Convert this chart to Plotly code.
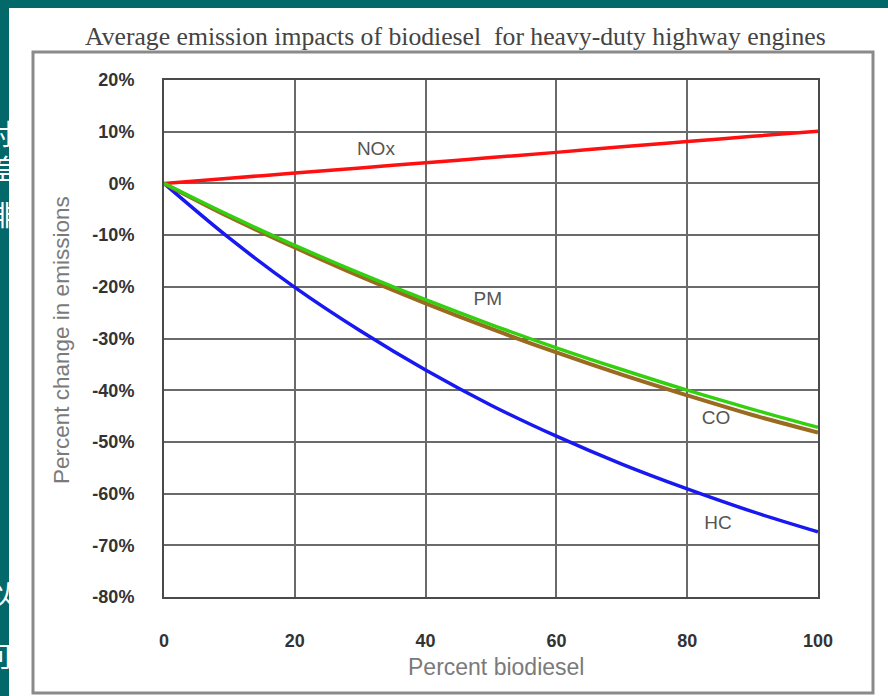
import plotly.graph_objects as go

# ---- data ----
biodiesel_pct = [0, 10, 20, 30, 40, 50, 60, 70, 80, 90, 100]
nox = [0, 1.0, 2.0, 3.0, 4.0, 5.0, 6.0, 7.1, 8.1, 9.1, 10.1]
pm = [0, -6.2, -12.0, -17.4, -22.5, -27.3, -31.8, -36.0, -40.0, -43.7, -47.2]
co = [0, -6.5, -12.4, -18.0, -23.2, -28.1, -32.7, -37.0, -41.0, -44.8, -48.2]
hc = [0, -10.6, -20.1, -28.5, -36.1, -42.9, -48.9, -54.3, -59.1, -63.5, -67.4]

x_ticks = [0, 20, 40, 60, 80, 100]
x_tick_labels = ["0", "20", "40", "60", "80", "100"]
y_ticks = [20, 10, 0, -10, -20, -30, -40, -50, -60, -70, -80]
y_tick_labels = ["20%", "10%", "0%", "-10%", "-20%", "-30%", "-40%", "-50%", "-60%", "-70%", "-80%"]

series_labels = ["NOx", "PM", "CO", "HC"]
label_x = [32.4, 49.5, 84.4, 84.7]
label_y = [6.5, -22.6, -45.6, -65.9]

frag_chars = ["对", "差", "排", "以", "可"]
frag_y = [138, 173, 219, 598, 660]

W, H = 888, 696
px = lambda v: v / W
py = lambda v: 1 - v / H

fig = go.Figure()

fig.add_trace(go.Scatter(x=biodiesel_pct, y=nox, mode="lines", line=dict(color="#ff1010", width=3.5, shape="spline"), showlegend=False))
fig.add_trace(go.Scatter(x=biodiesel_pct, y=hc, mode="lines", line=dict(color="#1818f0", width=3.5, shape="spline"), showlegend=False))
fig.add_trace(go.Scatter(x=biodiesel_pct, y=co, mode="lines", line=dict(color="#9a6a20", width=4, shape="spline"), showlegend=False))
fig.add_trace(go.Scatter(x=biodiesel_pct, y=pm, mode="lines", line=dict(color="#33d010", width=3.5, shape="spline"), showlegend=False))

fig.add_trace(go.Scatter(x=label_x, y=label_y, mode="text", text=series_labels,
                         textfont=dict(family="Liberation Sans", size=19, color="#555555"),
                         showlegend=False, cliponaxis=False))

# clipped fragments of slide text behind the picture
fig.add_trace(go.Scatter(x=[0] * len(frag_chars), y=frag_y, mode="text", text=frag_chars,
                         textposition="middle center",
                         textfont=dict(family="Noto Sans CJK SC", size=28, color="white"),
                         xaxis="x2", yaxis="y2", showlegend=False, cliponaxis=True))

tick_font = dict(family="Liberation Sans", size=18, color="#333333", weight="bold")

fig.update_layout(
    width=W, height=H,
    margin=dict(l=0, r=0, t=0, b=0, autoexpand=False),
    paper_bgcolor="#03686a",
    plot_bgcolor="rgba(0,0,0,0)",
    xaxis=dict(domain=[px(164), px(818)], range=[0, 100], tickvals=x_ticks, ticktext=x_tick_labels,
               showgrid=True, gridcolor="#6a6a6a", gridwidth=1.5, zeroline=False,
               showline=True, linecolor="#4a4a4a", linewidth=2, mirror=True, automargin=False,
               ticks="", ticklabelstandoff=26, tickfont=tick_font),
    yaxis=dict(domain=[py(597), py(80)], range=[-80, 20], tickvals=y_ticks, ticktext=y_tick_labels,
               showgrid=True, gridcolor="#6a6a6a", gridwidth=1.5, zeroline=False,
               showline=True, linecolor="#4a4a4a", linewidth=2, mirror=True, automargin=False,
               ticks="", ticklabelstandoff=24, tickfont=tick_font),
    xaxis2=dict(domain=[0, px(9)], range=[0, 9], visible=False, anchor="y2", automargin=False),
    yaxis2=dict(domain=[0, 1], range=[H, 0], visible=False, anchor="x2", automargin=False),
    shapes=[
        dict(type="rect", xref="paper", yref="paper", x0=px(9), x1=1, y0=0, y1=py(8),
             fillcolor="white", line=dict(width=0), layer="below"),
        dict(type="rect", xref="paper", yref="paper", x0=px(33), x1=px(873), y0=py(693), y1=py(52),
             fillcolor="rgba(0,0,0,0)", line=dict(color="#8a8a8a", width=3), layer="below"),
    ],
    annotations=[
        dict(text="Average emission impacts of biodiesel&nbsp; for heavy-duty highway engines",
             xref="paper", yref="paper", x=px(455), y=py(37), showarrow=False,
             xanchor="center", yanchor="middle",
             font=dict(family="Liberation Serif", size=25.7, color="#444444")),
        dict(text="Percent change in emissions", xref="paper", yref="paper",
             x=px(61), y=py(340), showarrow=False, textangle=-90,
             xanchor="center", yanchor="middle",
             font=dict(family="Liberation Sans", size=22.5, color="#7a7a7a")),
        dict(text="Percent biodiesel", xref="paper", yref="paper",
             x=px(496), y=py(667), showarrow=False,
             xanchor="center", yanchor="middle",
             font=dict(family="Liberation Sans", size=23, color="#7a7a7a")),
    ],
)

fig.write_html("out.html", config={"displayModeBar": False},
               post_script="document.body.style.margin='0';document.body.style.overflow='hidden';")
